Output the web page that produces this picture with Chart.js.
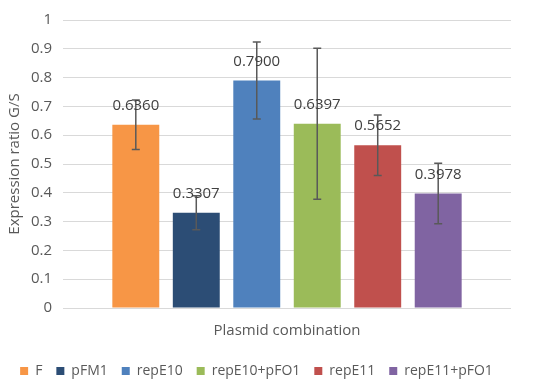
<!DOCTYPE html>
<html>
<head>
<meta charset="utf-8">
<script src="https://cdn.jsdelivr.net/npm/chart.js@4.4.1/dist/chart.umd.min.js"></script>
<style>
  html, body { margin: 0; padding: 0; background: #fff; }
  #wrap { width: 550px; height: 388px; }
</style>
</head>
<body>
<div id="wrap"><canvas id="grafico"></canvas></div>
<script>
// Datos
const categorias = ['Plasmid combination'];
const series = ['F', 'pFM1', 'repE10', 'repE10+pFO1', 'repE11', 'repE11+pFO1'];
const valores = [0.6360, 0.3307, 0.7900, 0.6397, 0.5652, 0.3978];
const errores = [0.086, 0.059, 0.134, 0.262, 0.105, 0.105];
const etiquetasY = ['0', '0.1', '0.2', '0.3', '0.4', '0.5', '0.6', '0.7', '0.8', '0.9', '1'];
const colores = ['#F79646', '#2C4D75', '#4F81BD', '#9BBB59', '#C0504D', '#8064A2'];

const fuente = "'Open Sans', 'DejaVu Sans', sans-serif";

// barras de error + etiquetas de valor
const barrasError = {
  id: 'barrasError',
  afterDatasetsDraw(chart) {
    const ctx = chart.ctx;
    const y = chart.scales.y;
    ctx.save();
    chart.data.datasets.forEach((ds, i) => {
      const bar = chart.getDatasetMeta(i).data[0];
      const v = ds.data[0];
      const e = errores[i];
      const yTop = y.getPixelForValue(v + e);
      const yBot = y.getPixelForValue(v - e);
      ctx.strokeStyle = '#595959';
      ctx.lineWidth = 1.5;
      ctx.beginPath();
      ctx.moveTo(bar.x, yTop); ctx.lineTo(bar.x, yBot);
      ctx.moveTo(bar.x - 4, yTop); ctx.lineTo(bar.x + 4, yTop);
      ctx.moveTo(bar.x - 4, yBot); ctx.lineTo(bar.x + 4, yBot);
      ctx.stroke();
    });
    chart.data.datasets.forEach((ds, i) => {
      const bar = chart.getDatasetMeta(i).data[0];
      ctx.fillStyle = '#404040';
      ctx.font = '15px ' + fuente;
      ctx.textAlign = 'center';
      ctx.textBaseline = 'middle';
      ctx.fillText(ds.data[0].toFixed(4), bar.x, bar.y - 19);
    });
    ctx.restore();
  }
};

const ctx = document.getElementById('grafico').getContext('2d');
const grafico = new Chart(ctx, {
  type: 'bar',
  data: {
    labels: categorias,
    datasets: series.map((s, i) => ({
      label: s,
      data: [valores[i]],
      backgroundColor: colores[i],
      borderWidth: 0,
      categoryPercentage: 0.81,
      barPercentage: 0.776
    }))
  },
  options: {
    responsive: true,
    maintainAspectRatio: false,
    animation: false,
    layout: { padding: { top: 14, right: 39, left: 2, bottom: 0 } },
    plugins: {
      tooltip: { enabled: false },
      legend: {
        position: 'bottom',
        labels: {
          boxWidth: 8,
          boxHeight: 8,
          padding: 14,
          color: '#595959',
          font: { family: fuente, size: 14 }
        }
      }
    },
    scales: {
      x: {
        grid: { display: false },
        border: { display: false },
        ticks: { color: '#595959', padding: 6, font: { family: fuente, size: 15 } },
        afterFit(scale) { scale.height = 42; }
      },
      y: {
        min: 0,
        max: 1,
        grid: { color: '#D9D9D9', drawTicks: false },
        border: { display: false },
        ticks: {
          stepSize: 0.1,
          padding: 11,
          color: '#595959',
          font: { family: fuente, size: 15 },
          callback: (val, idx) => etiquetasY[idx]
        },
        title: {
          display: true,
          text: 'Expression ratio G/S',
          color: '#595959',
          font: { family: fuente, size: 15 }
        },
        afterFit(scale) { scale.width = 61; }
      }
    }
  },
  plugins: [barrasError]
});
</script>
</body>
</html>
